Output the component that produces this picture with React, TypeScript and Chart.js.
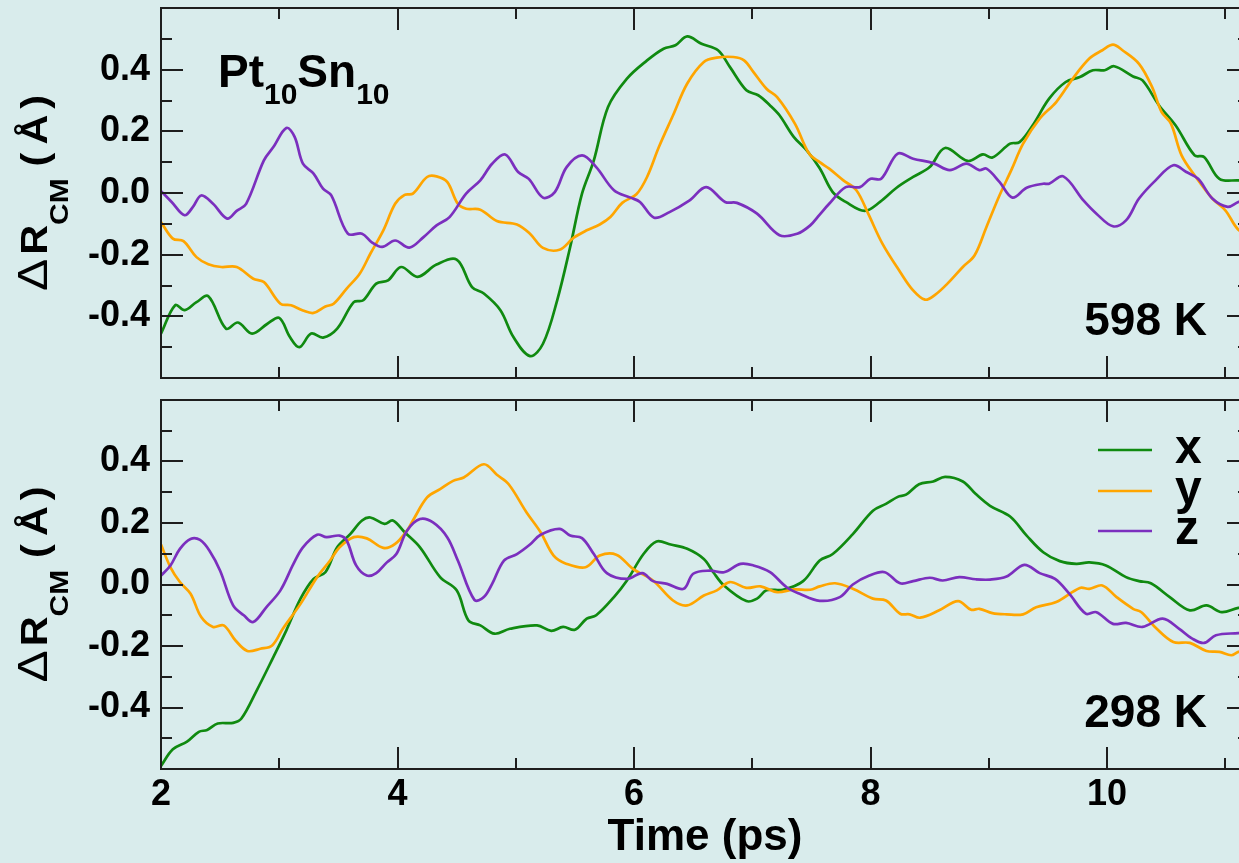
import React, { useEffect, useRef } from 'react';
import { Chart, registerables } from 'chart.js';

Chart.register(...registerables);

const FF = "'Liberation Sans', Arial, Helvetica, sans-serif";
const BG = '#d9ecec';
const AXIS_COLOR = '#1e1e1e';

const X_MIN = 2;
const X_MAX = 11.2;
const Y_MIN = -0.6;
const Y_MAX = 0.6;
const xMajorTicks = [2, 4, 6, 8, 10];
const xMinorTicks = [3, 5, 7, 9, 11];
const yMajorTicks = [-0.4, -0.2, 0, 0.2, 0.4];
const yMinorTicks = [-0.5, -0.3, -0.1, 0.1, 0.3, 0.5];

const seriesNames = ['x', 'y', 'z'];
const seriesColors = ['#108a10', '#ffa500', '#7b2fbe'];

// ---- 598 K panel ----
const hotXTime = [2.0, 2.12, 2.2, 2.3, 2.4, 2.55, 2.65, 2.77, 2.9, 3.0, 3.09, 3.17, 3.27, 3.37, 3.49, 3.63, 3.71, 3.82, 3.92, 4.03, 4.17, 4.33, 4.5, 4.63, 4.73, 4.87, 4.98, 5.12, 5.23, 5.35, 5.46, 5.56, 5.66, 5.78, 5.94, 6.11, 6.25, 6.35, 6.45, 6.57, 6.71, 6.81, 6.95, 7.05, 7.15, 7.23, 7.35, 7.46, 7.57, 7.68, 7.79, 7.95, 8.08, 8.22, 8.36, 8.5, 8.63, 8.82, 8.95, 9.03, 9.18, 9.26, 9.37, 9.51, 9.65, 9.77, 9.88, 9.98, 10.06, 10.22, 10.3, 10.44, 10.58, 10.74, 10.82, 10.95, 11.11, 11.2];
const hotXVal = [-0.456, -0.364, -0.38, -0.354, -0.335, -0.44, -0.42, -0.456, -0.424, -0.405, -0.467, -0.5, -0.456, -0.469, -0.44, -0.354, -0.348, -0.294, -0.283, -0.24, -0.272, -0.232, -0.216, -0.305, -0.326, -0.38, -0.467, -0.529, -0.489, -0.348, -0.175, -0.002, 0.106, 0.279, 0.371, 0.43, 0.468, 0.479, 0.508, 0.484, 0.463, 0.409, 0.333, 0.317, 0.284, 0.252, 0.182, 0.138, 0.08, 0.003, -0.029, -0.058, -0.029, 0.017, 0.052, 0.084, 0.146, 0.104, 0.125, 0.115, 0.16, 0.165, 0.219, 0.306, 0.36, 0.376, 0.398, 0.398, 0.411, 0.378, 0.365, 0.284, 0.219, 0.122, 0.117, 0.046, 0.041, 0.04];

const hotYTime = [2.0, 2.1, 2.19, 2.3, 2.4, 2.51, 2.64, 2.78, 2.87, 3.01, 3.1, 3.2, 3.29, 3.39, 3.46, 3.57, 3.68, 3.77, 3.88, 3.98, 4.06, 4.13, 4.25, 4.33, 4.42, 4.51, 4.58, 4.7, 4.84, 5.01, 5.12, 5.23, 5.37, 5.49, 5.6, 5.71, 5.8, 5.9, 6.02, 6.11, 6.21, 6.33, 6.45, 6.59, 6.7, 6.84, 6.93, 7.01, 7.12, 7.21, 7.36, 7.48, 7.57, 7.65, 7.77, 7.88, 7.98, 8.1, 8.25, 8.36, 8.46, 8.54, 8.65, 8.78, 8.88, 8.98, 9.09, 9.19, 9.29, 9.43, 9.57, 9.71, 9.85, 9.96, 10.05, 10.13, 10.27, 10.38, 10.46, 10.54, 10.63, 10.75, 10.89, 11.0, 11.11, 11.2];
const hotYVal = [-0.094, -0.148, -0.156, -0.208, -0.231, -0.24, -0.24, -0.278, -0.289, -0.359, -0.364, -0.381, -0.389, -0.368, -0.359, -0.31, -0.262, -0.197, -0.121, -0.035, -0.006, -0.002, 0.052, 0.054, 0.036, -0.035, -0.051, -0.054, -0.091, -0.102, -0.132, -0.178, -0.184, -0.145, -0.121, -0.102, -0.078, -0.032, -0.004, 0.052, 0.149, 0.252, 0.355, 0.425, 0.439, 0.441, 0.43, 0.392, 0.338, 0.311, 0.225, 0.128, 0.1, 0.079, 0.041, 0.009, -0.067, -0.164, -0.256, -0.316, -0.346, -0.332, -0.294, -0.24, -0.202, -0.11, -0.008, 0.074, 0.16, 0.241, 0.295, 0.371, 0.436, 0.463, 0.481, 0.463, 0.419, 0.344, 0.263, 0.225, 0.122, 0.052, -0.018, -0.056, -0.119, -0.13];

const hotZTime = [2.0, 2.09, 2.2, 2.27, 2.34, 2.44, 2.56, 2.64, 2.72, 2.87, 2.95, 3.06, 3.13, 3.2, 3.29, 3.37, 3.44, 3.58, 3.7, 3.78, 3.87, 3.98, 4.1, 4.22, 4.33, 4.44, 4.58, 4.7, 4.8, 4.91, 5.02, 5.11, 5.23, 5.33, 5.43, 5.56, 5.68, 5.83, 5.97, 6.05, 6.17, 6.3, 6.47, 6.61, 6.77, 6.87, 7.04, 7.23, 7.38, 7.49, 7.57, 7.65, 7.79, 7.91, 8.0, 8.09, 8.23, 8.36, 8.53, 8.67, 8.81, 8.92, 8.98, 9.09, 9.2, 9.32, 9.46, 9.51, 9.63, 9.8, 9.91, 10.05, 10.16, 10.27, 10.41, 10.56, 10.67, 10.77, 10.89, 11.02, 11.11, 11.2];
const hotZVal = [0.006, -0.029, -0.072, -0.045, -0.008, -0.035, -0.083, -0.058, -0.035, 0.106, 0.149, 0.211, 0.182, 0.095, 0.063, 0.014, -0.008, -0.132, -0.132, -0.159, -0.175, -0.154, -0.177, -0.143, -0.105, -0.078, -0.002, 0.041, 0.095, 0.125, 0.068, 0.046, -0.015, 0.003, 0.084, 0.122, 0.084, 0.009, -0.015, -0.029, -0.08, -0.062, -0.024, 0.019, -0.029, -0.032, -0.067, -0.137, -0.132, -0.105, -0.07, -0.035, 0.019, 0.019, 0.046, 0.046, 0.128, 0.111, 0.097, 0.074, 0.095, 0.074, 0.079, 0.036, -0.015, 0.017, 0.03, 0.03, 0.054, -0.024, -0.067, -0.108, -0.089, -0.018, 0.041, 0.09, 0.068, 0.046, -0.018, -0.045, -0.029, -0.02];

// ---- 298 K panel ----
const coldXTime = [2.0, 2.1, 2.22, 2.32, 2.39, 2.48, 2.61, 2.68, 2.81, 2.95, 3.06, 3.18, 3.29, 3.39, 3.49, 3.6, 3.7, 3.77, 3.89, 3.96, 4.06, 4.19, 4.36, 4.5, 4.6, 4.7, 4.82, 4.95, 5.18, 5.3, 5.4, 5.5, 5.6, 5.68, 5.83, 5.94, 6.08, 6.19, 6.31, 6.45, 6.59, 6.67, 6.76, 6.95, 7.04, 7.12, 7.26, 7.43, 7.57, 7.68, 7.85, 8.02, 8.13, 8.23, 8.3, 8.41, 8.53, 8.63, 8.78, 8.89, 9.01, 9.18, 9.32, 9.46, 9.6, 9.74, 9.85, 9.99, 10.16, 10.27, 10.37, 10.53, 10.7, 10.84, 10.97, 11.11, 11.2];
const coldXVal = [-0.59, -0.536, -0.511, -0.479, -0.473, -0.452, -0.45, -0.436, -0.344, -0.236, -0.149, -0.046, 0.018, 0.04, 0.121, 0.164, 0.208, 0.218, 0.197, 0.208, 0.17, 0.121, 0.024, -0.019, -0.117, -0.133, -0.16, -0.144, -0.133, -0.151, -0.138, -0.147, -0.111, -0.1, -0.041, 0.013, 0.099, 0.14, 0.13, 0.116, 0.083, 0.04, -0.003, -0.054, -0.046, -0.019, -0.017, 0.011, 0.078, 0.099, 0.164, 0.24, 0.262, 0.285, 0.292, 0.326, 0.335, 0.35, 0.335, 0.294, 0.256, 0.221, 0.159, 0.105, 0.076, 0.067, 0.072, 0.062, 0.024, 0.011, 0.004, -0.041, -0.084, -0.068, -0.09, -0.076, -0.075];

const coldYTime = [2.0, 2.08, 2.16, 2.25, 2.34, 2.44, 2.53, 2.63, 2.73, 2.84, 2.94, 3.03, 3.18, 3.32, 3.43, 3.51, 3.63, 3.74, 3.88, 3.98, 4.08, 4.13, 4.25, 4.36, 4.47, 4.56, 4.73, 4.84, 4.94, 5.09, 5.21, 5.32, 5.43, 5.59, 5.71, 5.85, 5.99, 6.16, 6.33, 6.45, 6.59, 6.7, 6.81, 6.95, 7.07, 7.21, 7.35, 7.49, 7.57, 7.7, 7.85, 8.02, 8.13, 8.25, 8.33, 8.42, 8.58, 8.74, 8.85, 8.92, 9.03, 9.15, 9.29, 9.4, 9.57, 9.77, 9.85, 9.96, 10.08, 10.22, 10.29, 10.42, 10.56, 10.7, 10.84, 10.95, 11.05, 11.11, 11.2];
const coldYVal = [0.13, 0.056, 0.008, -0.03, -0.106, -0.138, -0.133, -0.182, -0.216, -0.209, -0.198, -0.144, -0.063, 0.024, 0.078, 0.121, 0.154, 0.15, 0.119, 0.132, 0.175, 0.208, 0.283, 0.31, 0.337, 0.348, 0.391, 0.357, 0.326, 0.235, 0.17, 0.094, 0.067, 0.056, 0.094, 0.097, 0.051, 0.013, -0.052, -0.068, -0.036, -0.019, 0.008, -0.011, -0.006, -0.025, -0.016, -0.017, -0.006, 0.004, -0.014, -0.046, -0.052, -0.095, -0.097, -0.108, -0.084, -0.054, -0.082, -0.079, -0.093, -0.097, -0.097, -0.074, -0.057, -0.011, -0.014, -0.003, -0.041, -0.079, -0.09, -0.144, -0.187, -0.19, -0.216, -0.219, -0.23, -0.219, -0.215];

const coldZTime = [2.0, 2.08, 2.16, 2.25, 2.33, 2.41, 2.5, 2.61, 2.7, 2.78, 2.89, 3.01, 3.12, 3.2, 3.32, 3.4, 3.51, 3.57, 3.65, 3.74, 3.82, 3.91, 3.99, 4.08, 4.19, 4.3, 4.42, 4.51, 4.65, 4.73, 4.8, 4.9, 5.01, 5.12, 5.21, 5.37, 5.46, 5.56, 5.66, 5.77, 5.94, 6.07, 6.16, 6.28, 6.42, 6.5, 6.64, 6.76, 6.9, 7.01, 7.15, 7.29, 7.4, 7.57, 7.74, 7.85, 7.99, 8.12, 8.25, 8.36, 8.5, 8.61, 8.75, 8.89, 9.01, 9.15, 9.3, 9.43, 9.56, 9.68, 9.82, 9.91, 10.05, 10.16, 10.3, 10.47, 10.61, 10.72, 10.82, 10.92, 11.11, 11.2];
const coldZVal = [0.029, 0.062, 0.116, 0.148, 0.145, 0.11, 0.045, -0.068, -0.1, -0.122, -0.074, -0.019, 0.067, 0.121, 0.162, 0.154, 0.159, 0.143, 0.062, 0.029, 0.037, 0.072, 0.099, 0.175, 0.213, 0.202, 0.154, 0.078, -0.05, -0.041, 0.002, 0.078, 0.099, 0.13, 0.162, 0.181, 0.159, 0.151, 0.099, 0.037, 0.018, 0.037, 0.011, 0.002, -0.014, 0.035, 0.045, 0.04, 0.067, 0.062, 0.04, -0.009, -0.03, -0.053, -0.041, 0.0, 0.029, 0.04, 0.004, 0.011, 0.022, 0.013, 0.024, 0.017, 0.016, 0.026, 0.064, 0.037, 0.018, -0.03, -0.095, -0.09, -0.128, -0.125, -0.138, -0.111, -0.144, -0.176, -0.19, -0.165, -0.158, -0.155];

const panelLabels = ['598 K', '298 K'];

function zip(t: number[], v: number[]) {
  return t.map((x, i) => ({ x, y: v[i] }));
}

const frameTicksPlugin = {
  id: 'frameTicks',
  afterDatasetsDraw(chart: any) {
    const { ctx, chartArea: a, scales } = chart;
    const xs = scales.x;
    const ys = scales.y;
    ctx.save();
    ctx.strokeStyle = AXIS_COLOR;
    ctx.lineWidth = 2;
    ctx.beginPath();
    const seg = (x1: number, y1: number, x2: number, y2: number) => {
      ctx.moveTo(x1, y1);
      ctx.lineTo(x2, y2);
    };
    const xt = (vals: number[], len: number) =>
      vals.forEach((v) => {
        const p = Math.round(xs.getPixelForValue(v));
        seg(p, a.bottom, p, a.bottom - len);
        seg(p, a.top, p, a.top + len);
      });
    const yt = (vals: number[], len: number) =>
      vals.forEach((v) => {
        const p = Math.round(ys.getPixelForValue(v));
        seg(a.left, p, a.left + len, p);
        seg(a.right, p, a.right - len, p);
      });
    xt(xMajorTicks, 22);
    xt(xMinorTicks, 11);
    yt(yMajorTicks, 22);
    yt(yMinorTicks, 11);
    ctx.stroke();
    ctx.strokeRect(a.left, a.top, a.right - a.left, a.bottom - a.top);
    ctx.restore();
  },
};

function drawYTitle(ctx: CanvasRenderingContext2D, cy: number) {
  const pieces = [
    { t: '\u0394', f: `42px ${FF}`, v: 47, gap: 4 },
    { t: 'R', f: `bold 36px ${FF}`, v: 47, gap: 0 },
    { t: 'CM', f: `bold 26px ${FF}`, v: 68, gap: 12 },
    { t: '(', f: `bold 36px ${FF}`, v: 47, gap: 8 },
    { t: '\u00C5', f: `bold 36px ${FF}`, v: 47, gap: 6 },
    { t: ')', f: `bold 36px ${FF}`, v: 47, gap: 0 },
  ];
  const sx = 1.15;
  ctx.save();
  ctx.fillStyle = '#000';
  ctx.textBaseline = 'alphabetic';
  ctx.textAlign = 'left';
  let total = 0;
  const widths = pieces.map((p) => {
    ctx.font = p.f;
    const w = ctx.measureText(p.t).width * sx;
    total += w + p.gap;
    return w;
  });
  let u = -(cy + total / 2);
  ctx.rotate(-Math.PI / 2);
  pieces.forEach((p, i) => {
    ctx.font = p.f;
    ctx.save();
    ctx.translate(u, p.v);
    ctx.scale(sx, 1);
    ctx.fillText(p.t, 0, 0);
    ctx.restore();
    u += widths[i] + p.gap;
  });
  ctx.restore();
}

function makeTextPlugin(panel: number) {
  return {
    id: 'panelText' + panel,
    afterDraw(chart: any) {
      const { ctx, chartArea: a } = chart;
      const cy = (a.top + a.bottom) / 2;
      drawYTitle(ctx, cy);
      ctx.save();
      ctx.fillStyle = '#000';
      ctx.textBaseline = 'alphabetic';
      ctx.font = `bold 46px ${FF}`;
      ctx.textAlign = 'right';
      ctx.fillText(panelLabels[panel], 1207, a.top + 327);
      ctx.textAlign = 'left';
      if (panel === 0) {
        let x = 218;
        const parts = [
          { t: 'Pt', f: `bold 46px ${FF}`, y: 87 },
          { t: '10', f: `bold 30px ${FF}`, y: 104 },
          { t: 'Sn', f: `bold 46px ${FF}`, y: 87 },
          { t: '10', f: `bold 30px ${FF}`, y: 104 },
        ];
        parts.forEach((p) => {
          ctx.font = p.f;
          ctx.fillText(p.t, x, p.y);
          x += ctx.measureText(p.t).width;
        });
      } else {
        const rows = [60, 101, 141];
        seriesNames.forEach((name, i) => {
          ctx.strokeStyle = seriesColors[i];
          ctx.lineWidth = 2.5;
          ctx.beginPath();
          ctx.moveTo(1098, rows[i]);
          ctx.lineTo(1152, rows[i]);
          ctx.stroke();
          ctx.font = `bold 48px ${FF}`;
          ctx.fillText(name, 1175, rows[i] + 13);
        });
      }
      ctx.restore();
    },
  };
}

function makeConfig(panel: number): any {
  const sets = panel === 0
    ? [zip(hotXTime, hotXVal), zip(hotYTime, hotYVal), zip(hotZTime, hotZVal)]
    : [zip(coldXTime, coldXVal), zip(coldYTime, coldYVal), zip(coldZTime, coldZVal)];
  return {
    type: 'line',
    data: {
      datasets: sets.map((d, i) => ({
        label: seriesNames[i],
        data: d,
        borderColor: seriesColors[i],
        backgroundColor: seriesColors[i],
        borderWidth: 2.7,
        pointRadius: 0,
        tension: 0.35,
        fill: false,
        order: 2 - i,
      })),
    },
    options: {
      animation: false,
      responsive: false,
      maintainAspectRatio: false,
      layout: {
        padding: panel === 0
          ? { left: 0, right: 13, top: 8, bottom: 12 }
          : { left: 0, right: 13, top: 10, bottom: 0 },
      },
      plugins: { legend: { display: false }, tooltip: { enabled: false } },
      scales: {
        x: {
          type: 'linear',
          min: X_MIN,
          max: X_MAX,
          display: panel === 1,
          grid: { display: false, drawTicks: false },
          border: { display: false },
          afterBuildTicks: (s: any) => {
            s.ticks = xMajorTicks.map((v) => ({ value: v }));
          },
          afterFit: (s: any) => {
            s.height = panel === 1 ? 94 : 0;
            s.paddingLeft = 0;
            s.paddingRight = 0;
            s.paddingTop = 0;
            s.paddingBottom = 0;
          },
          ticks: {
            color: '#000',
            padding: 4,
            maxRotation: 0,
            autoSkip: false,
            font: { family: FF, size: 36, weight: 'bold' },
            callback: (v: any) => String(v),
          },
          title: {
            display: true,
            text: 'Time (ps)',
            color: '#000',
            font: { family: FF, size: 44, weight: 'bold', lineHeight: 1 },
            padding: { top: 0, bottom: 3 },
          },
        },
        y: {
          type: 'linear',
          min: Y_MIN,
          max: Y_MAX,
          grid: { display: false, drawTicks: false },
          border: { display: false },
          afterBuildTicks: (s: any) => {
            s.ticks = yMajorTicks.map((v) => ({ value: v }));
          },
          afterFit: (s: any) => {
            s.width = 161;
            s.paddingTop = 0;
            s.paddingBottom = 0;
            s.paddingLeft = 0;
            s.paddingRight = 0;
          },
          ticks: {
            color: '#000',
            padding: 11,
            autoSkip: false,
            font: { family: FF, size: 36, weight: 'bold' },
            callback: (v: any) => Number(v).toFixed(1),
          },
        },
      },
    },
    plugins: [frameTicksPlugin, makeTextPlugin(panel)],
  };
}

export default function App() {
  const topRef = useRef<HTMLCanvasElement>(null);
  const botRef = useRef<HTMLCanvasElement>(null);
  useEffect(() => {
    const c1 = new Chart(topRef.current as HTMLCanvasElement, makeConfig(0));
    const c2 = new Chart(botRef.current as HTMLCanvasElement, makeConfig(1));
    return () => {
      c1.destroy();
      c2.destroy();
    };
  }, []);
  return (
    <div
      style={{
        position: 'absolute',
        left: 0,
        top: 0,
        width: 1239,
        height: 863,
        overflow: 'hidden',
        background: BG,
      }}
    >
      <canvas
        ref={topRef}
        width={1262}
        height={390}
        style={{ position: 'absolute', left: 0, top: 0, width: 1262, height: 390 }}
      />
      <canvas
        ref={botRef}
        width={1262}
        height={473}
        style={{ position: 'absolute', left: 0, top: 390, width: 1262, height: 473 }}
      />
    </div>
  );
}
